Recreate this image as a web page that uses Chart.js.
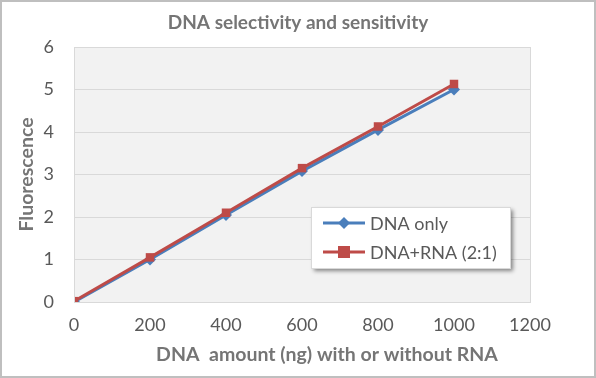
<!DOCTYPE html>
<html><head><meta charset="utf-8">
<script src="https://cdn.jsdelivr.net/npm/chart.js@4"></script>
<style>html,body{margin:0;padding:0;background:#fff}#wrap{width:596px;height:378px;position:relative}</style>
</head><body><div id="wrap"><canvas id="c" width="596" height="378"></canvas></div>
<script>
const xValues = [0, 200, 400, 600, 800, 1000];
const dnaOnly = [0, 1.0, 2.05, 3.08, 4.05, 5.0];
const dnaRna = [0.02, 1.05, 2.1, 3.15, 4.13, 5.13];
const seriesNames = ["DNA only", "DNA+RNA (2:1)"];
const chartTitle = "DNA selectivity and sensitivity";
const xTitle = "DNA  amount (ng) with or without RNA";
const yTitle = "Fluorescence";
const FONT = "Lato, 'Open Sans', sans-serif";
const BLUE = "#4a7ebb", RED = "#be4b48";

const pts = arr => xValues.map((x, i) => ({x: x, y: arr[i]}));

const bgPlugin = {
  id: 'bg',
  beforeDraw(chart) {
    const {ctx, chartArea: a} = chart;
    ctx.save();
    ctx.fillStyle = '#f2f2f2';
    ctx.fillRect(a.left, a.top, a.right - a.left, a.bottom - a.top);
    ctx.restore();
  },
  afterDatasetsDraw(chart) {
    const {ctx, chartArea: a} = chart;
    ctx.save();
    ctx.strokeStyle = '#d9d9d9'; ctx.lineWidth = 1;
    ctx.strokeRect(Math.round(a.left) + 0.5, Math.round(a.top) + 0.5, Math.round(a.right - a.left), Math.round(a.bottom - a.top));
    ctx.restore();
  },
  afterDraw(chart) {
    const ctx = chart.ctx;
    ctx.save();
    // titles
    ctx.fillStyle = '#757575'; ctx.textAlign = 'center'; ctx.textBaseline = 'middle';
    ctx.font = 'bold 19px ' + FONT;
    ctx.fillText(chartTitle, 298, 23);
    ctx.font = 'bold 19.5px ' + FONT;
    ctx.fillText(xTitle, 327, 355);
    // legend box
    const bx = 311, by = 207, bw = 199, bh = 61;
    ctx.shadowColor = 'rgba(0,0,0,0.45)'; ctx.shadowBlur = 4; ctx.shadowOffsetX = 3; ctx.shadowOffsetY = 3;
    ctx.fillStyle = '#fff'; ctx.fillRect(bx, by, bw, bh);
    ctx.shadowColor = 'transparent';
    ctx.strokeStyle = '#d9d9d9'; ctx.lineWidth = 1; ctx.strokeRect(bx + 0.5, by + 0.5, bw, bh);
    const ds = chart.data.datasets;
    const rows = [[ds[1], 223, 'diamond'], [ds[0], 252, 'square']];
    rows.forEach(([d, y, shape]) => {
      ctx.strokeStyle = d.borderColor; ctx.lineWidth = 3;
      ctx.beginPath(); ctx.moveTo(323, y); ctx.lineTo(365, y); ctx.stroke();
      ctx.fillStyle = d.borderColor;
      if (shape === 'diamond') {
        ctx.beginPath(); ctx.moveTo(344, y - 6); ctx.lineTo(350, y); ctx.lineTo(344, y + 6); ctx.lineTo(338, y); ctx.closePath(); ctx.fill();
      } else {
        ctx.fillRect(338, y - 6, 12, 12);
      }
      ctx.fillStyle = '#595959'; ctx.font = '18px ' + FONT; ctx.textBaseline = 'middle'; ctx.textAlign = 'left';
      ctx.fillText(d.label, 370, y + 1);
    });
    ctx.strokeStyle = '#bfbfbf'; ctx.lineWidth = 2;
    ctx.strokeRect(1, 1, 594, 376);
    ctx.restore();
  }
};

new Chart(document.getElementById('c'), {
  type: 'scatter',
  data: {
    datasets: [
      {label: seriesNames[1], data: pts(dnaRna), borderColor: RED, backgroundColor: RED, showLine: true, borderWidth: 3,
       pointStyle: 'rect', pointRadius: 6, pointBorderWidth: 0, order: 0},
      {label: seriesNames[0], data: pts(dnaOnly), borderColor: BLUE, backgroundColor: BLUE, showLine: true, borderWidth: 3,
       pointStyle: 'rectRot', pointRadius: 6, pointBorderWidth: 0, order: 1}
    ]
  },
  options: {
    responsive: false, animation: false, devicePixelRatio: 1,
    layout: {padding: {left: 15, right: 66, top: 47, bottom: 0}},
    plugins: {
      legend: {display: false}, tooltip: {enabled: false}, title: {display: false}
    },
    scales: {
      x: {
        type: 'linear', min: 0, max: 1200,
        ticks: {stepSize: 200, color: '#595959', font: {family: FONT, size: 18}, padding: 12, callback: v => String(v)},
        grid: {display: false, drawTicks: false},
        border: {display: false},
        title: {display: false},
        afterFit(s) { s.height = 378 - 302; }
      },
      y: {
        min: 0, max: 6,
        ticks: {stepSize: 1, color: '#595959', font: {family: FONT, size: 18}, padding: 20},
        grid: {color: '#d9d9d9', drawTicks: false},
        border: {display: false},
        title: {display: true, text: yTitle, color: '#757575', font: {family: FONT, size: 19.5, weight: 'bold'}, padding: 0},
        afterFit(s) { s.width = 74 - 15; }
      }
    }
  },
  plugins: [bgPlugin]
});
</script></body></html>
